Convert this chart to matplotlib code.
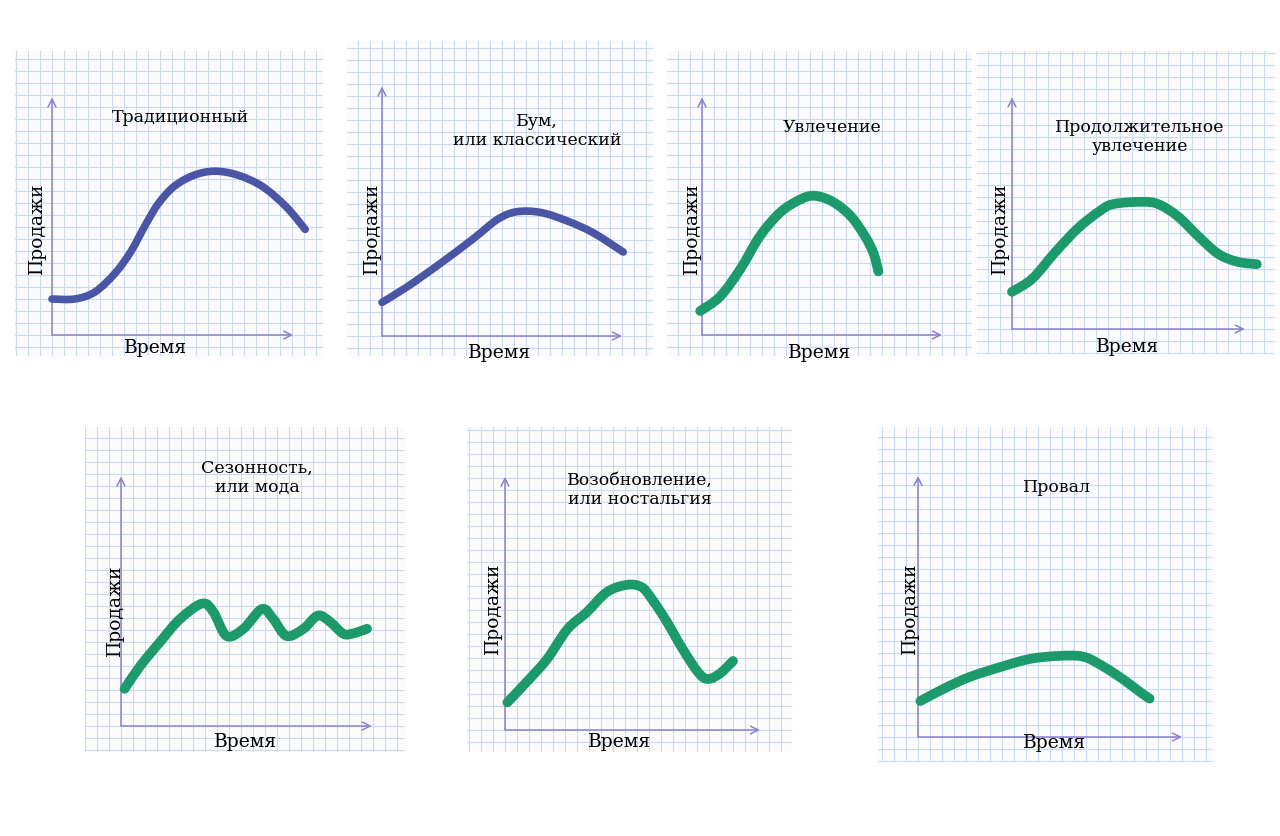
import numpy as np
import matplotlib
matplotlib.use('Agg')
import matplotlib.pyplot as plt
from matplotlib.path import Path
from matplotlib.patches import PathPatch

trad_time = [0, 1.9, 3.6, 5.3, 6.6, 7.8, 8.9, 10.2, 11.8, 13.5, 15.4, 17.5,
             19.5, 21.1]
trad_sales = [3.0, 3.0, 3.6, 5.2, 7.0, 9.2, 11.0, 12.4, 13.3, 13.65, 13.35,
              12.4, 10.7, 8.8]

boom_time = [0, 2.1, 4.8, 7.6, 9.6, 11.2, 13.2, 15.4, 17.6, 20.1]
boom_sales = [2.8, 4.1, 6.0, 8.1, 9.7, 10.35, 10.3, 9.6, 8.6, 7.0]

fad_time = [-0.15, 1.5, 3.2, 4.8, 6.5, 8.2, 9.4, 10.9, 12.4, 13.6, 14.3, 14.7]
fad_sales = [2.0, 3.2, 5.5, 8.2, 10.2, 11.3, 11.6, 11.1, 9.9, 8.2, 6.8, 5.3]

longfad_time = [0, 1.7, 3.6, 5.5, 7.2, 8.4, 10.8, 12.2, 13.8, 15.5, 17.2,
                18.8, 20.4]
longfad_sales = [3.1, 4.2, 6.4, 8.4, 9.75, 10.4, 10.6, 10.4, 9.4, 7.75, 6.25,
                 5.6, 5.4]

season_time = [0.3, 1.6, 3.25, 4.9, 6.75, 7.7, 8.8, 10.2, 11.75, 12.7, 13.8,
               15.2, 16.4, 17.4, 18.5, 19.3, 20.5]
season_sales = [3.1, 5.0, 7.0, 8.9, 10.2, 9.5, 7.5, 8.1, 9.75, 8.9, 7.5,
                8.1, 9.2, 8.7, 7.7, 7.7, 8.1]

revival_time = [0.2, 1.8, 3.5, 5.2, 6.8, 8.5, 10.2, 11.4, 12.25, 13.5, 14.8,
                16.1, 16.9, 17.9, 19.0]
revival_sales = [2.3, 4.0, 5.9, 8.4, 9.8, 11.5, 12.1, 11.9, 10.9, 9.0, 6.75,
                 4.8, 4.25, 4.7, 5.75]

flop_time = [0.2, 2.1, 4.3, 7.1, 9.3, 11.6, 13.75, 15.4, 17.1, 18.5, 19.3]
flop_sales = [3.0, 4.0, 5.0, 5.9, 6.5, 6.75, 6.7, 5.9, 4.8, 3.75, 3.2]

titles = ['Традиционный', 'Бум,\nили классический', 'Увлечение',
          'Продолжительное\nувлечение', 'Сезонность,\nили мода',
          'Возобновление,\nили ностальгия', 'Провал']
x_label = 'Время'
y_label = 'Продажи'

BLUE = '#4a55a6'
GREEN = '#1c9a6c'
AXIS = '#8c82cc'
GRID = '#cbd9f1'
PAPER = '#fbfbfb'
CELL = 12.0  # px per grid square
W, H = 1280, 837

# layout in pixels: paper (left, top, right, bottom), origin, arrow lengths,
# title centre, x label centre, y label centre
panels = [
    dict(t=trad_time, s=trad_sales, c=BLUE, lw=5.5, paper=(15, 52, 323, 357),
         org=(52, 336), ax_len=(20.1, 19.8), title=(180, 117),
         xl=(156, 348), yl=(37, 228)),
    dict(t=boom_time, s=boom_sales, c=BLUE, lw=5.5, paper=(347, 42, 653, 357),
         org=(382, 337), ax_len=(20.0, 20.8), title=(537, 131),
         xl=(500, 353), yl=(372, 228)),
    dict(t=fad_time, s=fad_sales, c=GREEN, lw=7, paper=(667, 52, 972, 357),
         org=(702, 336), ax_len=(20.0, 19.8), title=(832, 127),
         xl=(820, 353), yl=(692, 228)),
    dict(t=longfad_time, s=longfad_sales, c=GREEN, lw=7,
         paper=(977, 52, 1275, 355), org=(1012, 330), ax_len=(19.4, 19.3),
         title=(1140, 137), xl=(1128, 347), yl=(1000, 228)),
    dict(t=season_time, s=season_sales, c=GREEN, lw=7,
         paper=(85, 428, 405, 753), org=(121, 727), ax_len=(20.9, 20.8),
         title=(257, 478), xl=(246, 742), yl=(115, 610)),
    dict(t=revival_time, s=revival_sales, c=GREEN, lw=7,
         paper=(467, 428, 792, 753), org=(505, 731), ax_len=(21.25, 21.1),
         title=(640, 490), xl=(620, 742), yl=(493, 608)),
    dict(t=flop_time, s=flop_sales, c=GREEN, lw=7,
         paper=(878, 428, 1213, 763), org=(918, 738), ax_len=(22.0, 21.75),
         title=(1057, 488), xl=(1055, 743), yl=(910, 608)),
]


def smooth_path(t, s):
    # Catmull-Rom through the read points, drawn as cubic Bezier segments
    pts = np.column_stack([t, s]).astype(float)
    n = len(pts)
    verts = [pts[0]]
    codes = [Path.MOVETO]
    for i in range(n - 1):
        p0 = pts[i - 1] if i > 0 else pts[i]
        p1 = pts[i]
        p2 = pts[i + 1]
        p3 = pts[i + 2] if i + 2 < n else pts[i + 1]
        verts += [p1 + (p2 - p0) / 6, p2 - (p3 - p1) / 6, p2]
        codes += [Path.CURVE4] * 3
    return Path(verts, codes)


def main():
    fig = plt.figure(figsize=(W / 100, H / 100), dpi=100, facecolor='white')
    serif = 'DejaVu Serif'

    for i, p in enumerate(panels):
        left, top, right, bottom = p['paper']
        ox, oy = p['org']
        ax = fig.add_axes([left / W, 1 - bottom / H,
                           (right - left) / W, (bottom - top) / H])
        xmin, xmax = (left - ox) / CELL, (right - ox) / CELL
        ymin, ymax = (oy - bottom) / CELL, (oy - top) / CELL
        ax.set_xlim(xmin, xmax)
        ax.set_ylim(ymin, ymax)
        ax.set_facecolor(PAPER)
        for sp in ax.spines.values():
            sp.set_visible(False)

        # graph paper
        ax.set_xticks(np.arange(np.ceil(xmin), xmax, 1.0))
        ax.set_yticks(np.arange(np.ceil(ymin), ymax, 1.0))
        ax.tick_params(length=0, labelbottom=False, labelleft=False)
        ax.grid(True, color=GRID, lw=0.8)
        ax.set_axisbelow(True)

        # hand drawn axes
        arrow = dict(arrowstyle='->', color=AXIS, lw=1.1,
                     mutation_scale=14, shrinkA=0, shrinkB=0)
        ax.annotate('', xy=(p['ax_len'][0], 0), xytext=(0, 0),
                    arrowprops=arrow)
        ax.annotate('', xy=(0, p['ax_len'][1]), xytext=(0, 0),
                    arrowprops=arrow)

        # sales curve
        patch = PathPatch(smooth_path(p['t'], p['s']), fill=False,
                          edgecolor=p['c'], lw=p['lw'], zorder=3)
        patch.set_capstyle('round')
        patch.set_joinstyle('round')
        ax.add_patch(patch)

        tx, ty = p['title']
        fig.text(tx / W, 1 - ty / H, titles[i], ha='center', va='center',
                 fontsize=12.5, family=serif, linespacing=1.2)
        xx, xy = p['xl']
        fig.text(xx / W, 1 - xy / H, x_label, ha='center', va='center',
                 fontsize=13.5, family=serif)
        yx, yy = p['yl']
        fig.text(yx / W, 1 - yy / H, y_label, ha='center', va='center',
                 rotation=90, fontsize=13.5, family=serif)

    fig.savefig('out.png', dpi=100, facecolor='white')


if __name__ == '__main__':
    main()
